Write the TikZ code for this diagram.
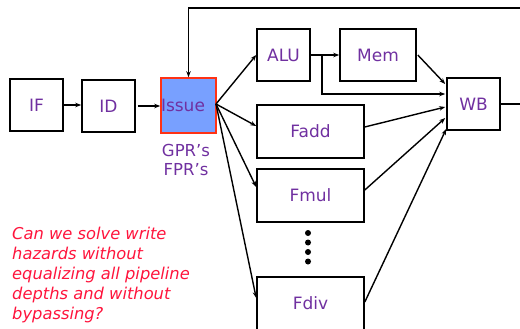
\documentclass[tikz,border=0pt]{standalone}
\usepackage{fontspec}
\setmainfont{DejaVu Sans}
\usetikzlibrary{arrows.meta}
\definecolor{txtpurple}{RGB}{112,48,160}
\definecolor{qred}{RGB}{255,20,60}
\definecolor{issuefill}{RGB}{120,160,255}
\definecolor{issueborder}{RGB}{255,50,20}
\begin{document}
\begin{tikzpicture}[x=1pt,y=-1pt,
  stage/.style={draw=black,line width=1.6pt,inner sep=0pt,minimum height=52pt,
    text=txtpurple,font=\fontsize{17}{20}\selectfont},
  conn/.style={line width=1.4pt,-{Stealth[length=6pt,width=4.5pt]}},
  plain/.style={line width=1.4pt}]
\useasboundingbox (0,0) rectangle (520,329);
\begin{scope}
\clip (0,0) rectangle (520,329);
\node[stage,minimum width=53pt] (if) at (36.5,105) {IF};
\node[stage,minimum width=53pt] (id) at (108.5,106) {ID};
\node[stage,minimum width=55pt,minimum height=55pt,fill=issuefill,draw=issueborder,text width=55pt,align=left] (issue) at (188.5,105.5) {Issue};
\node[stage,minimum width=53pt] (alu) at (283.5,55) {ALU};
\node[stage,minimum width=76pt] (mem) at (378,55) {Mem};
\node[stage,minimum width=107pt,minimum height=53pt] (fadd) at (310.5,131.5) {Fadd};
\node[stage,minimum width=107pt,minimum height=53pt] (fmul) at (310.5,195.5) {Fmul};
\node[stage,minimum width=107pt,minimum height=53pt] (fdiv) at (310.5,303.5) {Fdiv};
\node[stage,minimum width=53pt] (wb) at (473.5,104) {WB};
\node[text=txtpurple,font=\fontsize{16.5}{19}\selectfont,align=center,inner sep=0pt] (regs) at (186,159.5) {GPR’s\\[0pt]FPR’s};
\foreach \yy in {233,242.5,252,261.5} \fill (308,\yy) circle (3pt);
\node[text=qred,font=\fontsize{16.3}{20}\selectfont\itshape,align=left,anchor=north west,inner sep=0pt] (q) at (12,226.5) {Can we solve write\\hazards without\\equalizing all pipeline\\depths and without\\bypassing?};
% connectors
\draw[conn] (if.east) -- (id.west |- if.east);
\draw[conn] ([xshift=2pt]id.east) -- (issue.west |- id.east);
\coordinate (iss) at (216,104);
\draw[conn] (iss) -- (alu.west);
\draw[conn] (iss) -- ([yshift=5.5pt]fadd.west);
\draw[conn] (iss) -- ([yshift=8.5pt]fmul.west);
\draw[conn] (iss) -- ([yshift=5.5pt]fdiv.west);
\draw[conn] (alu.east) -- (mem.west);
\coordinate (br) at (322,55);
\draw[conn] (br) -- (322,94) -- ([yshift=10pt,xshift=-1pt]wb.west);
\draw[conn] ([xshift=1pt]mem.east) -- ([yshift=20pt,xshift=-1pt]wb.west);
\draw[conn] ([yshift=4.5pt]fadd.east) -- ([yshift=-3pt,xshift=-1pt]wb.west);
\draw[conn] ([yshift=5.5pt]fmul.east) -- ([yshift=-14pt,xshift=-1pt]wb.west);
\draw[conn] ([yshift=1.5pt]fdiv.east) -- ([yshift=-25pt]wb.west);
\draw[plain,-{Stealth[length=6pt,width=4.5pt]}] (wb.east) -- (530,104) -- (530,8) -- (issue.north |- 0,8) -- (issue.north);
\end{scope}
\end{tikzpicture}
\end{document}
